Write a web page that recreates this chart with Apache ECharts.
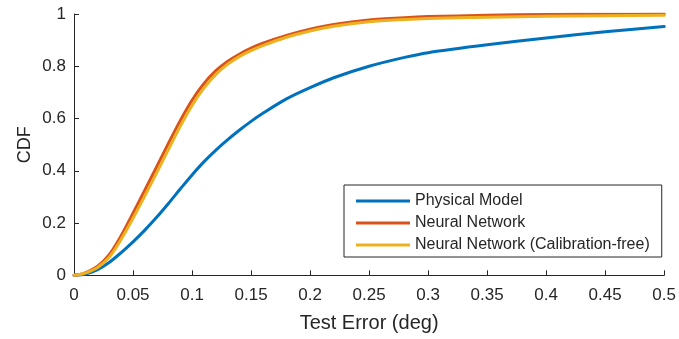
<!DOCTYPE html>
<html>
<head>
<meta charset="utf-8">
<script src="https://cdn.jsdelivr.net/npm/echarts@6/dist/echarts.min.js"></script>
<style>
html,body{margin:0;padding:0;background:#fff;}
#chart{width:679px;height:339px;}
</style>
</head>
<body>
<div id="chart"></div>
<script>
// ---- data ----
const seriesNames = ['Physical Model', 'Neural Network', 'Neural Network (Calibration-free)'];
const xValues = [0, 0.005, 0.01, 0.02, 0.03, 0.04, 0.05, 0.06, 0.07, 0.08, 0.09, 0.10, 0.11, 0.12, 0.13, 0.14, 0.15, 0.16, 0.18, 0.20, 0.22, 0.25, 0.28, 0.30, 0.35, 0.40, 0.45, 0.50];
const physicalModel = [0, 0.001, 0.005, 0.022, 0.05, 0.087, 0.128, 0.173, 0.222, 0.275, 0.33, 0.384, 0.434, 0.478, 0.518, 0.555, 0.589, 0.62, 0.675, 0.718, 0.756, 0.80, 0.834, 0.852, 0.882, 0.908, 0.932, 0.952];
const neuralNetwork = [0, 0.003, 0.01, 0.035, 0.08, 0.152, 0.238, 0.326, 0.415, 0.505, 0.592, 0.67, 0.733, 0.782, 0.818, 0.846, 0.869, 0.888, 0.918, 0.942, 0.96, 0.977, 0.986, 0.99, 0.995, 0.998, 0.999, 1.0];
const neuralNetworkCalFree = [0, 0.003, 0.009, 0.03, 0.07, 0.138, 0.218, 0.304, 0.392, 0.482, 0.57, 0.65, 0.716, 0.768, 0.807, 0.837, 0.86, 0.879, 0.911, 0.935, 0.953, 0.97, 0.979, 0.983, 0.988, 0.991, 0.993, 0.995];
const xTickLabels = ['0', '0.05', '0.1', '0.15', '0.2', '0.25', '0.3', '0.35', '0.4', '0.45', '0.5'];
const yTickLabels = ['0', '0.2', '0.4', '0.6', '0.8', '1'];
const xAxisTitle = 'Test Error (deg)';
const yAxisTitle = 'CDF';

// ---- chart ----
const colors = ['#0072BD', '#D95319', '#EDB120'];
const textColor = '#262626';
const font = 'Liberation Sans, Arial, Helvetica, sans-serif';
const seriesValues = [physicalModel, neuralNetwork, neuralNetworkCalFree];

const chart = echarts.init(document.getElementById('chart'), null, {renderer: 'canvas'});
chart.setOption({
  animation: false,
  backgroundColor: '#fff',
  grid: {left: 74, right: 10.5, top: 14, bottom: 63.7, containLabel: false},
  xAxis: {
    type: 'value', min: 0, max: 0.5, interval: 0.05,
    name: xAxisTitle, nameLocation: 'middle', nameGap: 38, nameMoveOverlap: false,
    nameTextStyle: {color: textColor, fontSize: 20, fontFamily: font},
    axisLine: {show: true, onZero: false, lineStyle: {color: textColor, width: 1}},
    axisTick: {show: true, inside: true, length: 5, lineStyle: {color: textColor}},
    axisLabel: {color: textColor, fontSize: 17, fontFamily: font, margin: 12,
      formatter: v => xTickLabels[Math.round(v / 0.05)]},
    splitLine: {show: false}
  },
  yAxis: {
    type: 'value', min: 0, max: 1, interval: 0.2,
    name: yAxisTitle, nameLocation: 'middle', nameGap: 40, nameRotate: 90, nameMoveOverlap: false,
    nameTextStyle: {color: textColor, fontSize: 18, fontFamily: font},
    axisLine: {show: true, onZero: false, lineStyle: {color: textColor, width: 1}},
    axisTick: {show: true, inside: true, length: 5, lineStyle: {color: textColor}},
    axisLabel: {color: textColor, fontSize: 17, fontFamily: font, margin: 8,
      padding: [3, 0, 0, 0],
      formatter: v => yTickLabels[Math.round(v / 0.2)]},
    splitLine: {show: false}
  },
  legend: {
    orient: 'vertical', left: 344, top: 185,
    padding: [8, 12, 4, 12],
    itemGap: 6, itemWidth: 54, itemHeight: 3,
    backgroundColor: '#fff', borderColor: textColor, borderWidth: 1,
    textStyle: {color: textColor, fontSize: 16, fontFamily: font, lineHeight: 16},
    data: seriesNames.map((n, i) => ({name: n, icon: 'rect', itemStyle: {color: colors[i]}}))
  },
  series: seriesNames.map((n, i) => ({
    name: n, type: 'line',
    data: xValues.map((x, j) => [x, seriesValues[i][j]]),
    showSymbol: false, symbol: 'none',
    smooth: 0.3,
    lineStyle: {color: colors[i], width: 3, join: 'round', cap: 'round'},
    itemStyle: {color: colors[i]},
    z: 2 + i
  }))
});
</script>
</body>
</html>
